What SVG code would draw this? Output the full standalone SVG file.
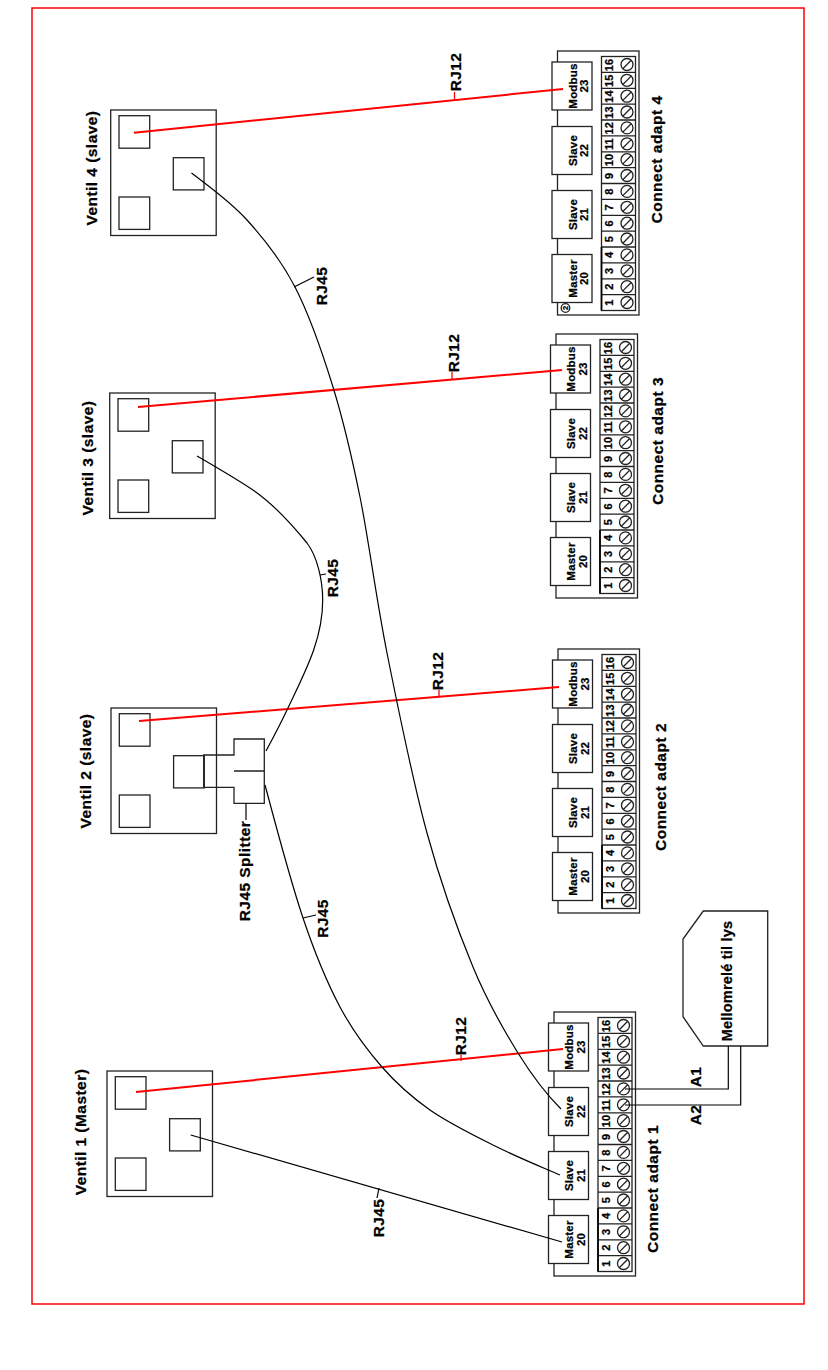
<svg xmlns="http://www.w3.org/2000/svg" xmlns:xlink="http://www.w3.org/1999/xlink" width="828" height="1370" viewBox="0 0 828 1370">
<style>
text{font-family:"Liberation Sans",Arial,sans-serif;font-weight:700;fill:#000;text-anchor:middle;stroke:#000;stroke-width:.25px}
.b{fill:none;stroke:#222;stroke-width:1.3}
.w{fill:#fff;stroke:#222;stroke-width:1.3}
.k{fill:none;stroke:#000;stroke-width:1.2}
.r{fill:none;stroke:#f00;stroke-width:2}
.n{font-size:11px}
.m{font-size:11.5px;letter-spacing:.2px}
.l{font-size:15.5px;letter-spacing:.3px}
.t{font-size:15.5px;letter-spacing:.5px}
.v{font-size:15.5px;letter-spacing:.45px}
</style>
<defs>
<g id="valve">
<rect class="b" width="105.5" height="125.5"/>
<rect class="b" x="8.3" y="5.7" width="30.7" height="32.5"/>
<rect class="b" x="62.6" y="47.7" width="30.7" height="32.2"/>
<rect class="b" x="8.3" y="87" width="30.7" height="32.4"/>
</g>
<g id="screw">
<circle class="b" r="6"/>
<path class="b" d="M-4.2 4.2L4.2-4.2"/>
</g>
<g id="adapter">
<rect class="w" width="81.5" height="264"/>
<rect class="w" x="-5.5" y="11" width="40" height="48"/>
<rect class="w" x="-5.5" y="75.5" width="40" height="48"/>
<rect class="w" x="-5.5" y="139.5" width="40" height="48"/>
<rect class="w" x="-5.5" y="203.5" width="40" height="48"/>
<rect class="b" x="44" y="5.5" width="34" height="254"/>
<path class="b" d="M44 21.4H78M44 37.3H78M44 53.1H78M44 69H78M44 84.9H78M44 100.8H78M44 116.6H78M44 132.5H78M44 148.4H78M44 164.3H78M44 180.1H78M44 196H78M44 211.9H78M44 227.8H78M44 243.6H78"/>
<path d="M44 196V259.5" fill="none" stroke="#000" stroke-width="1.7"/>
<use href="#screw" x="69.5" y="13.5"/><use href="#screw" x="69.5" y="29.3"/><use href="#screw" x="69.5" y="45.2"/><use href="#screw" x="69.5" y="61"/>
<use href="#screw" x="69.5" y="76.9"/><use href="#screw" x="69.5" y="92.8"/><use href="#screw" x="69.5" y="108.7"/><use href="#screw" x="69.5" y="124.5"/>
<use href="#screw" x="69.5" y="140.4"/><use href="#screw" x="69.5" y="156.3"/><use href="#screw" x="69.5" y="172.2"/><use href="#screw" x="69.5" y="188"/>
<use href="#screw" x="69.5" y="203.9"/><use href="#screw" x="69.5" y="219.8"/><use href="#screw" x="69.5" y="235.7"/><use href="#screw" x="69.5" y="251.5"/>
</g>
</defs>
<rect id="frame" x="32" y="8" width="772" height="1296" fill="none" stroke="#f00" stroke-width="1.5"/>

<g id="ventil-1"><use href="#valve" x="107" y="1071"/><text class="v" transform="translate(85.5 1132) rotate(-90)">Ventil 1 (Master)</text></g>
<g id="ventil-2"><use href="#valve" x="111" y="708"/><text class="v" transform="translate(91 771) rotate(-90)">Ventil 2 (slave)</text></g>
<g id="ventil-3"><use href="#valve" x="109.7" y="393"/><text class="v" transform="translate(93 458) rotate(-90)">Ventil 3 (slave)</text></g>
<g id="ventil-4"><use href="#valve" x="110.7" y="110"/><text class="v" transform="translate(97 168) rotate(-90)">Ventil 4 (slave)</text></g>

<g id="adapt-1" transform="translate(554 1012)"><use href="#adapter"/>
<g transform="translate(0 264) rotate(-90)">
<text class="m" x="36.5" y="19">Master</text><text class="m" x="36.5" y="30.5">20</text><text class="m" x="100.5" y="19">Slave</text><text class="m" x="100.5" y="30.5">21</text><text class="m" x="164.5" y="19">Slave</text><text class="m" x="164.5" y="30.5">22</text><text class="m" x="229" y="19">Modbus</text><text class="m" x="229" y="30.5">23</text>
<text class="n" x="12.4" y="55.5">1</text><text class="n" x="28.3" y="55.5">2</text><text class="n" x="44.1" y="55.5">3</text><text class="n" x="60" y="55.5">4</text><text class="n" x="75.8" y="55.5">5</text><text class="n" x="91.6" y="55.5">6</text><text class="n" x="107.5" y="55.5">7</text><text class="n" x="123.3" y="55.5">8</text><text class="n" x="139.2" y="55.5">9</text><text class="n" x="155" y="55.5">10</text><text class="n" x="170.8" y="55.5">11</text><text class="n" x="186.7" y="55.5">12</text><text class="n" x="202.5" y="55.5">13</text><text class="n" x="218.4" y="55.5">14</text><text class="n" x="234.2" y="55.5">15</text><text class="n" x="250" y="55.5">16</text>
</g></g>
<g id="adapt-2" transform="translate(558 649)"><use href="#adapter"/>
<g transform="translate(0 264) rotate(-90)">
<text class="m" x="36.5" y="19">Master</text><text class="m" x="36.5" y="30.5">20</text><text class="m" x="100.5" y="19">Slave</text><text class="m" x="100.5" y="30.5">21</text><text class="m" x="164.5" y="19">Slave</text><text class="m" x="164.5" y="30.5">22</text><text class="m" x="229" y="19">Modbus</text><text class="m" x="229" y="30.5">23</text>
<text class="n" x="12.4" y="55.5">1</text><text class="n" x="28.3" y="55.5">2</text><text class="n" x="44.1" y="55.5">3</text><text class="n" x="60" y="55.5">4</text><text class="n" x="75.8" y="55.5">5</text><text class="n" x="91.6" y="55.5">6</text><text class="n" x="107.5" y="55.5">7</text><text class="n" x="123.3" y="55.5">8</text><text class="n" x="139.2" y="55.5">9</text><text class="n" x="155" y="55.5">10</text><text class="n" x="170.8" y="55.5">11</text><text class="n" x="186.7" y="55.5">12</text><text class="n" x="202.5" y="55.5">13</text><text class="n" x="218.4" y="55.5">14</text><text class="n" x="234.2" y="55.5">15</text><text class="n" x="250" y="55.5">16</text>
</g></g>
<g id="adapt-3" transform="translate(556 334)"><use href="#adapter"/>
<g transform="translate(0 264) rotate(-90)">
<text class="m" x="36.5" y="19">Master</text><text class="m" x="36.5" y="30.5">20</text><text class="m" x="100.5" y="19">Slave</text><text class="m" x="100.5" y="30.5">21</text><text class="m" x="164.5" y="19">Slave</text><text class="m" x="164.5" y="30.5">22</text><text class="m" x="229" y="19">Modbus</text><text class="m" x="229" y="30.5">23</text>
<text class="n" x="12.4" y="55.5">1</text><text class="n" x="28.3" y="55.5">2</text><text class="n" x="44.1" y="55.5">3</text><text class="n" x="60" y="55.5">4</text><text class="n" x="75.8" y="55.5">5</text><text class="n" x="91.6" y="55.5">6</text><text class="n" x="107.5" y="55.5">7</text><text class="n" x="123.3" y="55.5">8</text><text class="n" x="139.2" y="55.5">9</text><text class="n" x="155" y="55.5">10</text><text class="n" x="170.8" y="55.5">11</text><text class="n" x="186.7" y="55.5">12</text><text class="n" x="202.5" y="55.5">13</text><text class="n" x="218.4" y="55.5">14</text><text class="n" x="234.2" y="55.5">15</text><text class="n" x="250" y="55.5">16</text>
</g></g>
<g id="adapt-4" transform="translate(557.5 51)"><use href="#adapter"/>
<circle class="b" cx="8" cy="257" r="4.3"/>
<g transform="translate(0 264) rotate(-90)">
<text x="7" y="10.6" style="font-size:7.5px">2</text>
<text class="m" x="36.5" y="19">Master</text><text class="m" x="36.5" y="30.5">20</text><text class="m" x="100.5" y="19">Slave</text><text class="m" x="100.5" y="30.5">21</text><text class="m" x="164.5" y="19">Slave</text><text class="m" x="164.5" y="30.5">22</text><text class="m" x="229" y="19">Modbus</text><text class="m" x="229" y="30.5">23</text>
<text class="n" x="12.4" y="55.5">1</text><text class="n" x="28.3" y="55.5">2</text><text class="n" x="44.1" y="55.5">3</text><text class="n" x="60" y="55.5">4</text><text class="n" x="75.8" y="55.5">5</text><text class="n" x="91.6" y="55.5">6</text><text class="n" x="107.5" y="55.5">7</text><text class="n" x="123.3" y="55.5">8</text><text class="n" x="139.2" y="55.5">9</text><text class="n" x="155" y="55.5">10</text><text class="n" x="170.8" y="55.5">11</text><text class="n" x="186.7" y="55.5">12</text><text class="n" x="202.5" y="55.5">13</text><text class="n" x="218.4" y="55.5">14</text><text class="n" x="234.2" y="55.5">15</text><text class="n" x="250" y="55.5">16</text>
</g></g>

<text class="t" transform="translate(658 1189) rotate(-90)">Connect adapt 1</text>
<text class="t" transform="translate(666 787) rotate(-90)">Connect adapt 2</text>
<text class="t" transform="translate(663 441) rotate(-90)">Connect adapt 3</text>
<text class="t" transform="translate(661.5 159.5) rotate(-90)">Connect adapt 4</text>

<g id="splitter">
<path class="b" d="M203.7 755H234V739H264.3V803.3H234V787.3H203.7ZM234 771H264.3"/>
<text class="v" transform="translate(250 871) rotate(-90)">RJ45 Splitter</text>
</g>
<g id="mellomrele">
<path class="b" d="M703.3 911H767.7V1046H703.3L683 1016.7V939Z"/>
<text class="v" transform="translate(732 981) rotate(-90)" style="font-size:14.5px;letter-spacing:.2px">Mellomrelé til lys</text>
</g>

<g id="connectors">
<path class="r" d="M134 132.7L563 89"/>
<path class="r" d="M138 407L562 370"/>
<path class="r" d="M139 721L559 687"/>
<path class="r" d="M136 1092L563 1049"/>
<path class="r" style="stroke-width:1.3" d="M454.5 92V100M452 372V380M439 690V697M461 1055V1061"/>
<path class="k" d="M191.5 173C209.5 187 229.75 201 247 220C264.25 239 280.7 259.2 295 287C309.3 314.8 322.2 352 333 387C343.8 422 351 452.7 360 497C369 541.3 375.8 597 387 653C398.2 709 412.7 780.7 427 833C441.3 885.3 457.8 930.3 473 967C488.2 1003.7 503.3 1029.3 518 1053C532.7 1076.7 546 1094 561 1109"/>
<path class="k" d="M197 456C216 467 235 478 253 490C275 505 294 527 307 543C317 556 322.7 580 322.7 600C322.7 640 305 672 287 710C280 725 273 738 266 751"/>
<path class="k" d="M265 785C277 830 290.5 881 303 918C315.5 955 326.8 982.2 340 1007C353.2 1031.8 367 1049.8 382 1067C397 1084.2 411.2 1096.8 430 1110C448.8 1123.2 473.3 1135.2 495 1146C516.7 1156.8 538 1165.5 560 1175"/>
<path class="k" d="M190.7 1135L562 1242"/>
<path class="k" d="M379 1188L377 1198M294 287L314 277M320 575L326 574M303 918L316 915M246 803.3V820"/>
<path class="k" d="M728.3 1046V1089H625M740.7 1046V1105H625"/>
</g>

<g id="cable-labels">
<text class="l" transform="translate(383.5 1218) rotate(-90)">RJ45</text>
<text class="l" transform="translate(327 286) rotate(-90)">RJ45</text>
<text class="l" transform="translate(338 578) rotate(-90)">RJ45</text>
<text class="l" transform="translate(328 918.5) rotate(-90)">RJ45</text>
<text class="l" transform="translate(442.5 671) rotate(-90)">RJ12</text>
<text class="l" transform="translate(465.5 1036) rotate(-90)">RJ12</text>
<text class="l" transform="translate(460.5 72) rotate(-90)">RJ12</text>
<text class="l" transform="translate(458.5 353) rotate(-90)">RJ12</text>
<text class="l" transform="translate(700.5 1077) rotate(-90)">A1</text>
<text class="l" transform="translate(700.5 1115) rotate(-90)">A2</text>
</g>
</svg>
